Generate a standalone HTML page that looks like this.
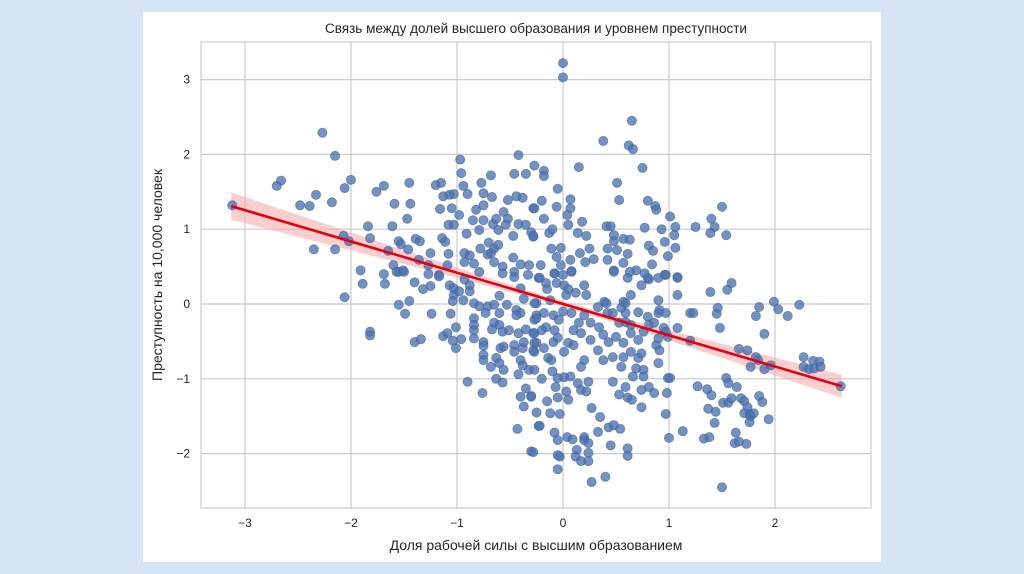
<!DOCTYPE html>
<html><head><meta charset="utf-8"><style>
html,body{margin:0;padding:0;background:#d6e5f5;width:1024px;height:574px;overflow:hidden}
svg{display:block}
text{font-family:"Liberation Sans","DejaVu Sans",sans-serif;fill:#262626}
</style></head><body>
<svg id="chart" width="1024" height="574">
<rect x="143" y="12" width="738" height="550" fill="#fff"/>
<g id="grid"></g>
<rect x="201" y="42" width="670" height="466" fill="none" stroke="#cccccc" stroke-width="1.2"/>
<g id="band"></g>
<g id="pts"></g>
<g id="reg"></g>
<g id="ticks"></g>
<text x="536" y="33" text-anchor="middle" font-size="13.5">Связь между долей высшего образования и уровнем преступности</text>
<text x="536" y="550" text-anchor="middle" font-size="14">Доля рабочей силы с высшим образованием</text>
<text transform="translate(162,275) rotate(-90)" text-anchor="middle" font-size="14">Преступность на 10,000 человек</text>
</svg>
<script>
const xTicks=[-3,-2,-1,0,1,2];
const yTicks=[-2,-1,0,1,2,3];
const regSlope=-0.418, regIntercept=0.0;
const regXRange=[-3.13,2.63];
const bandA=0.0016, bandB=0.0032, bandMeanX=0.0;
const points=[
[-3.12,1.32],[-2.70,1.58],[-2.66,1.65],[-2.27,2.29],[-2.15,1.98],[-2.33,1.46],[-2.48,1.32],[-2.39,1.31],[-2.18,1.36],[-2.06,1.55],[-2.0,1.66],[-2.35,0.73],[-2.15,0.73],[-2.07,0.91],[-2.02,0.84],[-1.84,1.04],[-1.82,0.88],[-1.91,0.45],[-1.69,0.40],[-1.76,1.50],[-1.69,1.58],[-1.45,1.62],[-1.59,1.34],[-1.44,1.34],[-1.47,1.14],[-1.61,1.04],[-1.55,0.84],[-1.53,0.80],[-1.46,0.73],[-1.65,0.71],[-1.60,0.52],[-1.55,0.43],[-1.51,0.45],[-1.39,0.87],[-1.35,0.84],[-1.25,0.68],[-1.36,0.59],[-1.27,0.52],[-1.27,0.40],[-1.17,0.39],[-1.20,1.59],[-1.15,1.62],[-1.13,1.44],[-1.07,1.46],[-1.03,1.47],[-1.16,1.27],[-1.05,1.28],[-1.08,1.06],[-1.14,0.88],[-1.11,0.83],[-1.08,0.67],[-1.09,0.52],[-0.97,1.93],[-0.96,1.75],[-0.94,1.58],[-0.90,1.47],[-0.98,1.19],[-1.03,1.06],[-0.91,0.94],[-0.93,0.68],[-0.88,0.65],[-0.84,0.54],[-0.93,0.56],[-0.77,1.62],[-0.68,1.72],[-0.75,1.48],[-0.67,1.43],[-0.75,1.32],[-0.82,1.26],[-0.85,1.12],[-0.75,1.12],[-0.66,1.07],[-0.63,1.14],[-0.79,0.99],[-0.61,0.99],[-0.70,0.82],[-0.65,0.74],[-0.78,0.74],[-0.71,0.66],[-0.65,0.56],[-0.47,0.62],[-0.57,0.50],[-0.46,0.43],[-0.40,0.53],[-0.32,0.52],[-0.42,1.99],[-0.46,1.74],[-0.35,1.74],[-0.27,1.85],[-0.52,1.39],[-0.44,1.44],[-0.38,1.42],[-0.28,1.28],[-0.56,1.23],[-0.52,1.14],[-0.54,1.06],[-0.42,1.07],[-0.35,1.06],[-0.47,0.91],[-0.30,0.96],[-0.28,0.90],[-0.68,0.68],[-0.61,0.79],
[0,3.22],[0,3.03],[0.65,2.45],[0.38,2.18],[0.62,2.12],[0.66,2.07],[0.75,1.82],[0.15,1.83],[0.53,1.39],[0.51,1.62],[1.50,1.30],[1.40,1.14],[1.43,1.03],[1.39,0.95],[1.54,0.92],[1.25,1.03],[1.01,1.17],[1.06,1.03],[1.05,0.92],[0.96,0.83],[1.06,0.75],[0.93,1.0],[0.77,1.02],[0.87,1.31],[0.80,1.38],[0.88,1.26],[-0.18,1.78],[-0.18,1.71],[-0.05,1.54],[0.07,1.40],[0.07,1.28],[0.04,1.19],[-0.06,1.30],[-0.20,1.38],[-0.27,1.28],[-0.18,1.14],[0.18,1.10],[0.05,1.06],[0.41,1.04],[0.45,1.04],[-0.13,0.95],[-0.28,0.91],[0.14,0.95],[0.22,0.91],[0.48,0.92],[0.57,0.87],[0.63,0.86],[0.48,0.84],[0.42,0.74],[0.51,0.72],[0.25,0.74],[0.81,0.78],[0.85,0.71],[0.61,0.67],[0.99,0.64],[-0.11,0.74],[-0.06,0.63],[0.16,0.68],[0.07,0.59],[0.29,0.60],[0.21,0.56],[0.42,0.59],[0.57,0.55],[0.84,0.53],[-0.21,0.52],[-0.02,0.52],[0.48,0.45],[0.08,0.44],[0.69,0.45],[0.96,0.39],[1.08,0.36],[0.61,0.35],[0.77,0.41],[0.81,0.33],[-0.08,0.41],
[-2.06,0.09],[-1.89,0.27],[-1.68,0.27],[-1.82,-0.37],[-1.82,-0.42],[-1.40,-0.51],[-1.34,-0.47],[-1.55,-0.01],[-1.49,-0.13],[-1.45,0.04],[-1.24,-0.13],[-1.13,-0.43],[-1.09,-0.39],[-1.06,-0.13],[-1.01,-0.31],[-1.01,-0.59],[-1.04,-0.49],[-0.96,-0.47],[-0.90,-1.04],[-0.76,-1.19],[-0.43,-1.67],[-0.30,-1.97],[-0.40,-1.24],[-0.35,-1.13],[-0.30,-1.23],[-0.37,-1.37],[-0.63,-1.00],[-0.57,-1.05],[-0.23,-1.63],
[-1.57,0.43],[-1.50,0.43],[-1.40,0.29],[-1.32,0.20],[-1.25,0.24],[-1.17,0.37],[-1.07,0.25],[-1.03,0.21],[-1.03,0.12],[-1.04,0.04],[-0.98,0.17],[-0.94,0.05],[-0.93,0.33],[-0.88,0.25],[-0.88,0.17],[-0.79,0.43],[-0.84,0.01],[-0.79,-0.03],[-0.71,-0.03],[-0.65,-0.01],[-0.73,-0.12],[-0.84,-0.19],[-0.84,-0.28],[-0.84,-0.35],[-0.60,0.11],[-0.60,-0.12],[-0.65,-0.25],[-0.60,-0.28],[-0.67,-0.34],[-0.57,-0.37],[-0.51,-0.35],[-0.84,-0.46],[-0.75,-0.51],[-0.75,-0.56],[-0.75,-0.68],[-0.75,-0.75],[-0.68,-0.84],[-0.63,-0.72],[-0.60,-0.79],[-0.56,-0.88],[-0.59,-0.59],[-0.56,-0.57],[-0.46,-0.55],[-0.46,-0.64],[-0.38,-0.59],[-0.40,-0.75],[-0.38,-0.82],[-0.42,-0.94],[-0.32,-0.88],[-0.27,-0.88],[-0.42,-0.39],[-0.37,-0.51],[-0.35,-0.34],[-0.28,-0.39],[-0.27,-0.64],[-0.27,-0.52],[-0.53,-0.01],[-0.44,-0.08],[-0.40,-0.12],[-0.44,-0.15],[-0.37,0.07],[-0.25,0.01],[-0.25,-0.15],[-0.27,-0.21],[-0.40,0.21],[-0.46,0.36],[-0.33,0.39],[-0.57,0.41],[-0.23,0.35],
[-0.22,0.35],[-0.16,0.28],[-0.08,0.41],[0.0,0.39],[0.08,0.43],[-0.06,0.28],[0.01,0.25],[0.03,0.12],[0.12,0.15],[0.20,0.25],[0.22,0.12],[-0.27,0.01],[-0.18,-0.12],[-0.25,-0.19],[-0.09,-0.15],[-0.04,-0.21],[-0.16,-0.31],[-0.08,-0.35],[-0.27,-0.39],[-0.25,-0.52],[-0.18,-0.59],[-0.09,-0.51],[-0.28,-0.62],[-0.14,-0.72],[-0.11,-0.75],[0.01,-0.64],[0.05,-0.52],[0.10,-0.55],[0.08,-0.12],[0.10,-0.35],[0.17,-0.39],[0.15,-0.25],[0.26,-0.25],[0.20,-0.15],[0.33,-0.04],[0.39,0.03],[0.42,-0.12],[0.34,-0.31],[0.38,-0.41],[0.43,-0.51],[0.26,-0.48],[0.33,-0.62],[0.20,-0.75],[0.17,-0.84],[0.38,-0.75],[0.47,-0.71],[0.55,-0.84],[0.57,-0.71],[0.64,-0.64],[0.71,-0.72],[0.69,-0.86],[0.66,-0.97],[0.76,-0.88],[0.76,-0.97],[0.74,-0.66],[0.90,-0.79],[0.88,-0.55],[0.91,-0.62],[0.90,-0.46],[0.99,-0.44],[0.76,-0.37],[0.71,-0.48],[0.64,-0.39],[0.57,-0.52],[0.50,-0.44],[0.53,-0.25],[0.59,-0.24],[0.64,-0.28],[0.59,-0.12],[0.55,-0.05],[0.57,0.03],[0.64,0.12],[0.59,0.01],[0.71,-0.11],[0.80,-0.17],[0.81,-0.28],[0.86,-0.25],[0.90,-0.12],[0.91,-0.08],[0.97,-0.12],[0.90,0.05],[0.97,0.39],[1.08,0.35],[1.08,0.12],[0.90,0.35],[0.80,0.35],[0.74,0.25],[0.63,0.43],[0.48,0.43],[0.41,0.01],[0.47,-0.12],[0.95,-0.32],[0.97,-0.37],[1.08,-0.32],
[0.99,-0.99],[1.01,-0.99],[0.98,-1.19],[0.97,-1.47],[1.0,-1.79],[1.13,-1.70],[1.20,-0.12],[1.23,-0.12],[1.20,-0.49],[1.27,-1.10],[1.36,-1.14],[1.40,-1.22],[1.37,-1.40],[1.44,-1.44],[1.43,-1.59],[1.33,-1.80],[1.38,-1.78],[1.50,-2.45],[1.51,-1.32],[1.56,-1.32],[1.59,-1.26],[1.54,-0.99],[1.56,-1.06],[1.64,-1.11],[1.68,-1.26],[1.71,-1.30],[1.74,-1.38],[1.71,-1.46],[1.76,-1.47],[1.77,-1.50],[1.76,-1.58],[1.80,-1.46],[1.85,-1.23],[1.88,-1.31],[1.94,-1.54],[1.63,-1.72],[1.62,-1.86],[1.66,-1.84],[1.73,-1.87],[1.39,0.16],[1.55,0.19],[1.59,0.28],[1.46,-0.05],[1.45,-0.13],[1.48,-0.32],[1.85,-0.04],[1.82,-0.16],[1.90,-0.40],[1.99,0.03],[2.03,-0.07],[2.12,-0.16],[2.23,-0.01],[1.66,-0.60],[1.74,-0.62],[1.82,-0.71],[1.84,-0.75],[1.77,-0.84],[1.90,-0.87],[1.96,-0.82],[2.27,-0.71],[2.36,-0.76],[2.42,-0.77],[2.27,-0.84],[2.32,-0.87],[2.37,-0.86],[2.43,-0.84],[2.62,-1.10],
[-0.22,-1.63],[-0.28,-1.98],[-0.08,-1.72],[-0.05,-1.82],[0.04,-1.78],[0.09,-1.81],[0.20,-1.78],[0.20,-1.82],[0.24,-1.86],[-0.05,-2.02],[-0.03,-2.04],[0.13,-1.95],[0.12,-2.04],[0.17,-2.10],[0.24,-1.99],[0.24,-2.10],[-0.05,-2.21],[0.27,-2.38],[0.40,-2.31],[0.45,-1.89],[0.61,-1.93],[0.61,-2.03],[0.33,-1.71],[0.43,-1.65],[0.48,-1.62],[0.54,-1.67],[0.35,-1.51],[0.27,-1.39],[0.05,-1.28],[-0.12,-1.46],[-0.03,-1.47],[-0.30,-1.24],[-0.05,-0.99],[0.01,-0.98],[0.07,-0.97],[-0.07,-1.11],[0.14,-1.06],[0.17,-1.15],[0.22,-1.17],[0.24,-1.04],[0.03,-1.17],[0.47,-1.04],[0.53,-1.21],[0.59,-1.11],[0.61,-1.25],[0.65,-1.28],[0.74,-1.38],[0.81,-1.11],[0.86,-1.19],[0.74,-1.15],
[-0.2,-1.0],[-0.15,-1.3],[-0.25,-1.45],[-0.1,-0.9],[-0.05,-1.25],[-0.2,-0.35],[-0.12,0.05],[-0.05,-0.45],[0.0,-0.1],[0.05,0.2],[-0.02,0.75],[-0.1,1.0],[-0.15,0.2]
];
const NS='http://www.w3.org/2000/svg';
const L=201,R=871,T=42,B=508;
const X0=563,XU=106,Y0=304,YU=74.8;
function sx(v){return X0+v*XU;}
function sy(v){return Y0-v*YU;}
function mk(tag,attrs,parent){const e=document.createElementNS(NS,tag);for(const k in attrs)e.setAttribute(k,attrs[k]);parent.appendChild(e);return e;}
const grid=document.getElementById('grid'),ticks=document.getElementById('ticks');
xTicks.forEach(t=>{
  const l=mk('line',{x1:sx(t),x2:sx(t),y1:T,y2:B,stroke:'#cccccc','stroke-width':1.2},grid);
  
  
  const tx=mk('text',{x:sx(t),y:B+19,'text-anchor':'middle','font-size':12},ticks);
  tx.textContent=(t<0?'\u2212'+Math.abs(t):String(t));
  
  
});
yTicks.forEach(t=>{
  const l=mk('line',{x1:L,x2:R,y1:sy(t),y2:sy(t),stroke:'#cccccc','stroke-width':1.2},grid);
  
  
  const tx=mk('text',{x:L-11,y:sy(t)+4,'text-anchor':'end','font-size':12},ticks);
  tx.textContent=(t<0?'\u2212'+Math.abs(t):String(t));
  
  
});
// band
const up=[],dn=[];
for(let i=0;i<=60;i++){const x=regXRange[0]+(regXRange[1]-regXRange[0])*i/60;const y=regSlope*x+regIntercept;const s=Math.sqrt(bandA+bandB*(x-bandMeanX)**2);up.push(sx(x)+','+sy(y+s));dn.unshift(sx(x)+','+sy(y-s));}
const band=mk('polygon',{points:up.concat(dn).join(' '),fill:'#f4a6a6','fill-opacity':0.55},document.getElementById('band'));


const pg=document.getElementById('pts');
points.forEach(p=>{
  const c=mk('circle',{cx:sx(p[0]),cy:sy(p[1]),r:4.6,fill:'#4c72b0','fill-opacity':0.78,stroke:'#3b5e96','stroke-opacity':0.6,'stroke-width':0.8},pg);
  
  
});
const rl=mk('line',{x1:sx(regXRange[0]),y1:sy(regSlope*regXRange[0]+regIntercept),x2:sx(regXRange[1]),y2:sy(regSlope*regXRange[1]+regIntercept),stroke:'#e3000f','stroke-width':2.6},document.getElementById('reg'));


</script>
</body></html>
